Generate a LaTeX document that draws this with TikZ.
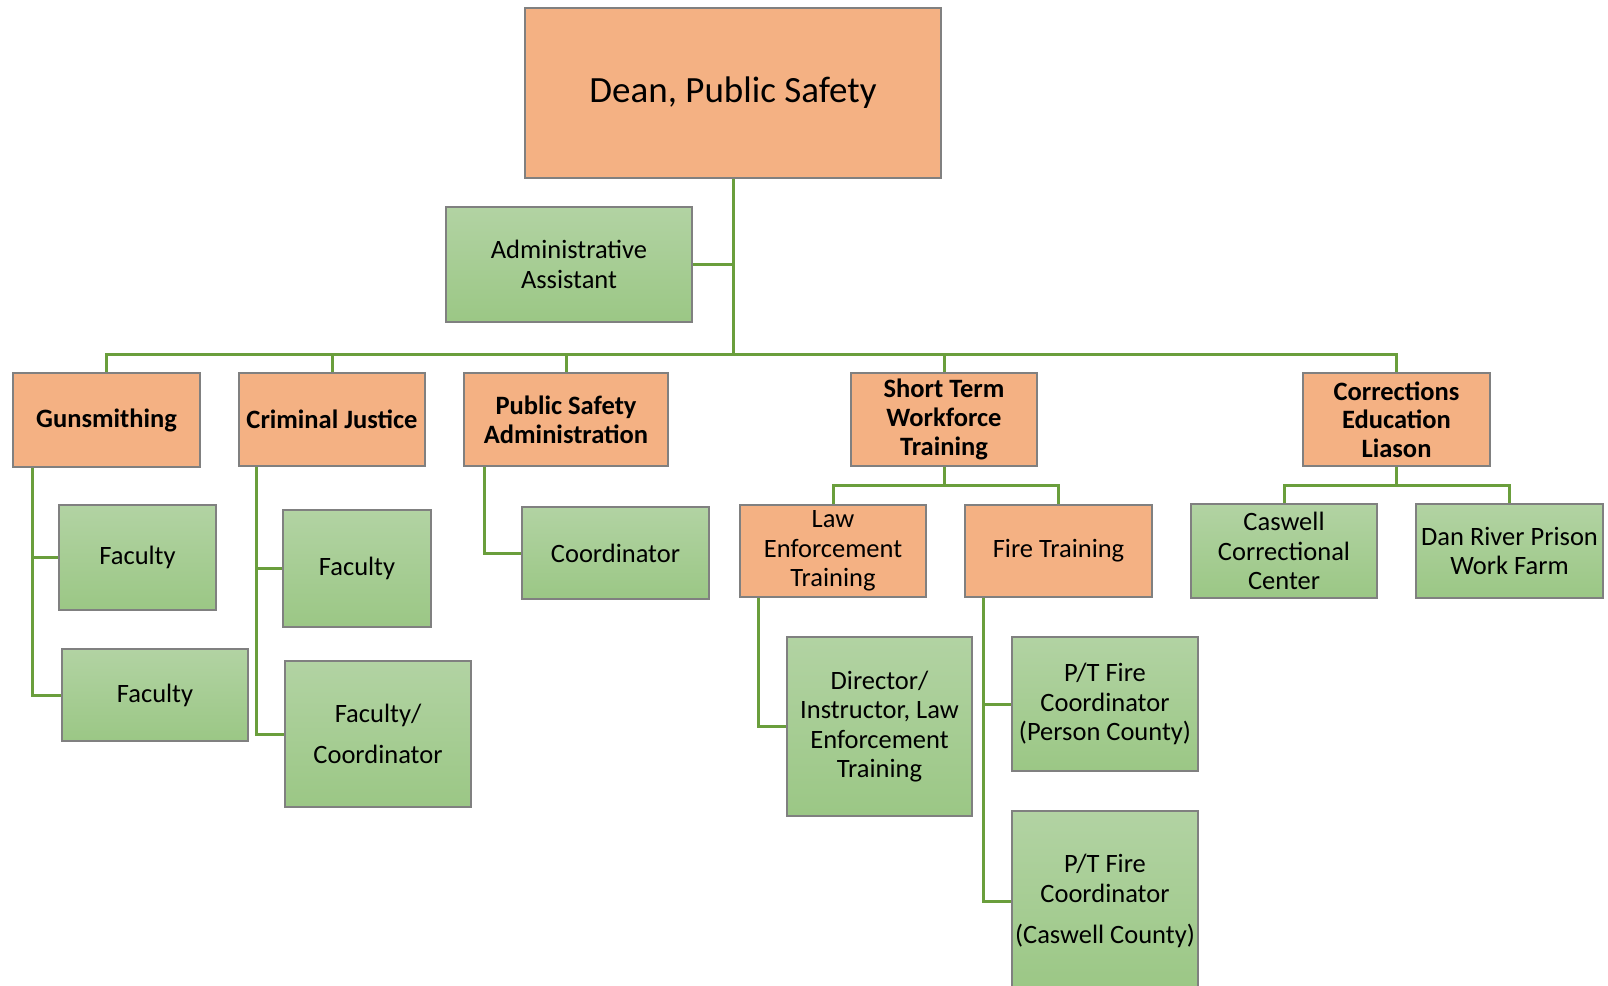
\documentclass[tikz,border=0pt]{standalone}
\usepackage{fontspec}
\setmainfont{Carlito}

\definecolor{boxorange}{HTML}{F4B183}
\definecolor{greentop}{HTML}{B2D3A3}
\definecolor{greenbot}{HTML}{9BC785}
\definecolor{boxline}{HTML}{808080}
\definecolor{linkgreen}{HTML}{6A9E3C}

\tikzset{
  unitbox/.style={draw=boxline, line width=1.2bp, inner sep=2bp, align=center,
    font=\fontsize{26.5bp}{29.5bp}\selectfont},
  orangebox/.style={unitbox, fill=boxorange},
  headbox/.style={orangebox, font=\fontsize{26.5bp}{28.7bp}\selectfont\bfseries},
  greenbox/.style={unitbox, top color=greentop, bottom color=greenbot},
  link/.style={draw=linkgreen, line width=3bp},
}

\begin{document}
\begin{tikzpicture}[x=1bp,y=-1bp]
\useasboundingbox (0,0) rectangle (1608,985);

% Dean and assistant
\node[orangebox, minimum width=416bp, minimum height=170bp, font=\fontsize{37bp}{44bp}\selectfont] (dean) at (733,93) {Dean, Public Safety};
\node[greenbox, minimum width=246bp, minimum height=115bp] (admin) at (569,264.5) {Administrative\\Assistant};

% Departments
\node[headbox, minimum width=187bp, minimum height=94bp] (gun) at (106.5,420) {Gunsmithing};
\node[headbox, minimum width=186bp, minimum height=93bp] (cj) at (332,419.5) {Criminal Justice};
\node[headbox, minimum width=204bp, minimum height=93bp] (psa) at (566,419.5) {Public Safety\\Administration};
\node[headbox, minimum width=186bp, minimum height=93bp] (stw) at (944,419.5) {Short Term\\Workforce\\Training};
\node[headbox, minimum width=187bp, minimum height=93bp] (cel) at (1396.5,419.5) {Corrections\\Education\\Liason};

% Short term and corrections units
\node[orangebox, minimum width=186bp, minimum height=92bp] (let) at (833,551) {Law\\Enforcement\\Training};
\node[orangebox, minimum width=187bp, minimum height=92bp] (fire) at (1058.5,551) {Fire Training};
\node[greenbox, minimum width=186bp, minimum height=94bp] (ccc) at (1284,551) {Caswell\\Correctional\\Center};
\node[greenbox, minimum width=187bp, minimum height=94bp] (dan) at (1509.5,551) {Dan River Prison\\Work Farm};

% Staff
\node[greenbox, minimum width=157bp, minimum height=105bp] (fac1) at (137.5,557.5) {Faculty};
\node[greenbox, minimum width=186bp, minimum height=92bp] (fac2) at (155,695) {Faculty};
\node[greenbox, minimum width=148bp, minimum height=117bp] (fac3) at (357,568.5) {Faculty};
\node[greenbox, minimum width=186bp, minimum height=146bp] (faccoord) at (378,734) {Faculty/\\[11bp]Coordinator};
\node[greenbox, minimum width=187bp, minimum height=92bp] (coord) at (615.5,553) {Coordinator};
\node[greenbox, minimum width=185bp, minimum height=179bp] (director) at (879.5,726.5) {Director/\\Instructor, Law\\Enforcement\\Training};
\node[greenbox, minimum width=186bp, minimum height=134bp] (ptp) at (1105,704) {P/T Fire\\Coordinator\\(Person County)};
\node[greenbox, minimum width=186bp, minimum height=180bp] (ptc) at (1105,901) {P/T Fire\\Coordinator\\[12bp](Caswell County)};

% Bus junctions
\coordinate (hub) at (733,354);
\coordinate (stwhub) at (944,485);
\coordinate (celhub) at (1396.5,485);

% Connectors
\draw[link] (dean.south) -- (hub);
\draw[link] (admin.east) -- (admin.east -| hub);
\draw[link] (hub) -| (gun.north);
\draw[link] (hub) -| (cj.north);
\draw[link] (hub) -| (psa.north);
\draw[link] (hub) -| (stw.north);
\draw[link] (hub) -| (cel.north);

\draw[link] (stw.south) -- (stwhub) -| (let.north);
\draw[link] (stwhub) -| (fire.north);
\draw[link] (cel.south) -- (celhub) -| (ccc.north);
\draw[link] (celhub) -| (dan.north);

\draw[link] ([xshift=20bp]gun.south west) |- (fac1.west);
\draw[link] ([xshift=20bp]gun.south west) |- (fac2.west);
\draw[link] ([xshift=18bp]cj.south west) |- (fac3.west);
\draw[link] ([xshift=18bp]cj.south west) |- (faccoord.west);
\draw[link] ([xshift=21bp]psa.south west) |- (coord.west);
\draw[link] ([xshift=19bp]let.south west) |- (director.west);
\draw[link] ([xshift=19bp]fire.south west) |- (ptp.west);
\draw[link] ([xshift=19bp]fire.south west) |- (ptc.west);

\end{tikzpicture}
\end{document}
